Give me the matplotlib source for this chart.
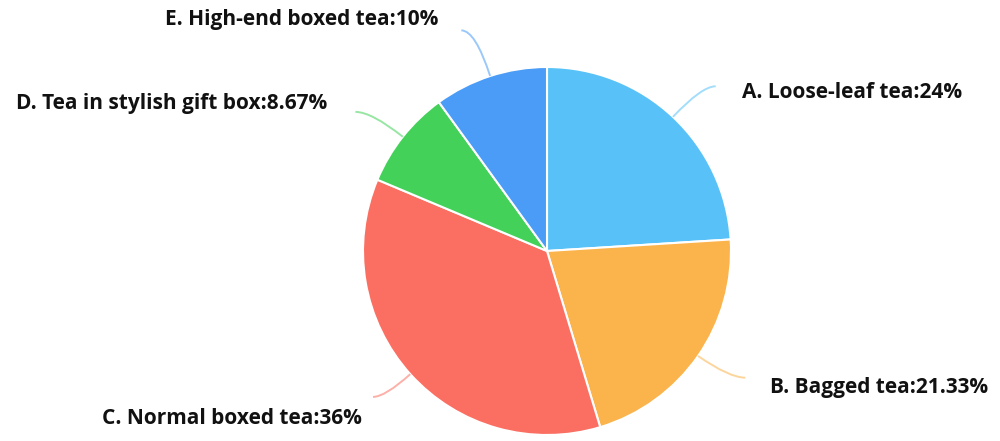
import numpy as np
import matplotlib
matplotlib.use("Agg")
import matplotlib.pyplot as plt
from matplotlib.path import Path
from matplotlib.patches import PathPatch

# tea packaging shares
labels = ["A. Loose-leaf tea", "B. Bagged tea", "C. Normal boxed tea",
          "D. Tea in stylish gift box", "E. High-end boxed tea"]
shares = [24, 21.33, 36, 8.67, 10]
share_text = ["24%", "21.33%", "36%", "8.67%", "10%"]
colors = ["#58C2F8", "#FBB44C", "#FB6F62", "#43D15A", "#4A9CF6"]

W, H = 1000, 441
fig = plt.figure(figsize=(W / 100, H / 100), dpi=100)
ax = fig.add_axes([0, 0, 1, 1])

cx, cy, R = 547, H - 251, 184
wedges, _ = ax.pie(shares, colors=colors, startangle=90, counterclock=False,
                   center=(cx, cy), radius=R, frame=True,
                   wedgeprops=dict(edgecolor="white", linewidth=1.5))
ax.set_xlim(0, W)
ax.set_ylim(0, H)
ax.set_aspect("equal")
ax.axis("off")

# label anchors: (x, y, ha)
label_pos = [(742, H - 93, "left"), (770, H - 387, "left"),
             (362, H - 418, "right"), (327, H - 103, "right"),
             (438, H - 20, "right")]
len1 = [42, 38, 34, 40, 48]
len2 = [14, 16, 12, 16, 14]

for w, col, (lx, ly, ha), l1, l2, name, pct in zip(wedges, colors, label_pos, len1, len2, labels, share_text):
    mid = np.deg2rad((w.theta1 + w.theta2) / 2)
    c, s = np.cos(mid), np.sin(mid)
    p0 = (cx + R * c, cy + R * s)
    p1 = (cx + (R + l1) * c, cy + (R + l1) * s)
    p2 = (p1[0] + np.sign(c) * l2, p1[1])
    path = Path([p0, p1, p2], [Path.MOVETO, Path.CURVE3, Path.CURVE3])
    ax.add_patch(PathPatch(path, facecolor="none", edgecolor=col, lw=1.4, alpha=0.55))
    ax.text(lx, ly, f"{name}:{pct}", ha=ha, va="center", fontsize=15,
            fontweight="bold", family="Open Sans", color="#111111")

fig.savefig("out.png", dpi=100)
